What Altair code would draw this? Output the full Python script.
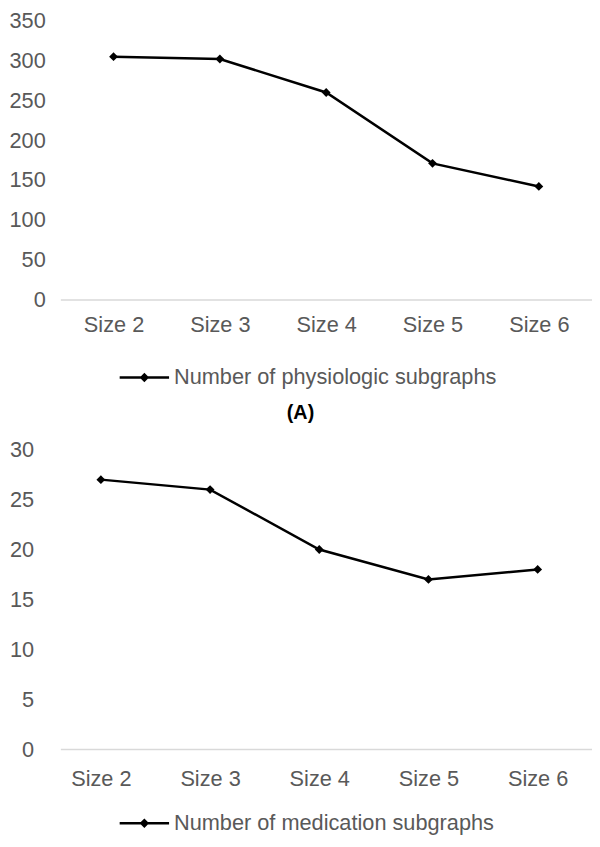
import altair as alt
import pandas as pd

sizes = ["Size 2", "Size 3", "Size 4", "Size 5", "Size 6"]
physio = [305, 302, 260, 171, 142]
medic = [27, 26, 20, 17, 18]
physio_name = "Number of physiologic subgraphs"
medic_name = "Number of medication subgraphs"
physio_ticks = [0, 50, 100, 150, 200, 250, 300, 350]
medic_ticks = [0, 5, 10, 15, 20, 25, 30]

FONT = "Liberation Sans"
GRAY = "#595959"
FS = 22
# line + small diamond legend symbol (unit = sqrt(symbolSize)/2 = 8px)
LEGEND_PATH = "M-3.125,0H3.125M-0.375,0L0,-0.375L0.375,0L0,0.375Z"


def panel(values, name, ticks, width, height, ypad, xpad, legend_x, legend_y,
          xscale, title=None):
    df = pd.DataFrame({"size": sizes, "value": values, "series": name})
    x = alt.X("size:N", sort=sizes, title=None, scale=xscale,
              axis=alt.Axis(labelAngle=0, ticks=False, grid=False,
                            domainColor="#d9d9d9", domainWidth=1.5,
                            labelFontSize=FS, labelColor=GRAY, labelFont=FONT,
                            labelPadding=xpad))
    y = alt.Y("value:Q", title=None,
              scale=alt.Scale(domain=[ticks[0], ticks[-1]], nice=False),
              axis=alt.Axis(values=ticks, domain=False, ticks=False, grid=False,
                            labelFontSize=FS, labelColor=GRAY, labelFont=FONT,
                            labelPadding=ypad))
    line = alt.Chart(df).mark_line(strokeWidth=2.5).encode(
        x=x, y=y,
        color=alt.Color("series:N", scale=alt.Scale(domain=[name], range=["black"]),
                        legend=alt.Legend(orient="none", legendX=legend_x, legendY=legend_y,
                                          title=None, symbolType=LEGEND_PATH,
                                          symbolSize=256, symbolStrokeWidth=2.5,
                                          symbolStrokeColor="black",
                                          labelFontSize=FS, labelColor=GRAY,
                                          labelFont=FONT, labelLimit=600,
                                          labelOffset=19)),
    )
    pts = alt.Chart(df).mark_point(shape="diamond", filled=True, size=80,
                                   color="black", opacity=1).encode(x=x, y=y)
    ch = alt.layer(line, pts).properties(width=width, height=height)
    if title is not None:
        ch = ch.properties(title=title)
    return ch


top = panel(physio, physio_name, physio_ticks, 538, 282, 15.3, 15, 74, 350,
            alt.Scale(padding=0.5),
            title=alt.TitleParams("(A)", orient="bottom", fontSize=20,
                                  fontWeight="bold", color="black", font=FONT,
                                  anchor="middle", frame="bounds", offset=15))
bottom = panel(medic, medic_name, medic_ticks, 538, 303, 27, 20, 74, 367,
               alt.Scale(padding=0.4344, align=0.427))

chart = (
    alt.concat(top, bottom, columns=1, spacing=16)
    .resolve_scale(color="independent")
    .resolve_legend(color="independent")
    .properties(padding={"left": 0, "top": -3, "right": 0, "bottom": 0})
    .configure_view(stroke=None)
)

chart.save("out.html", embed_options={"renderer": "svg", "actions": False})
